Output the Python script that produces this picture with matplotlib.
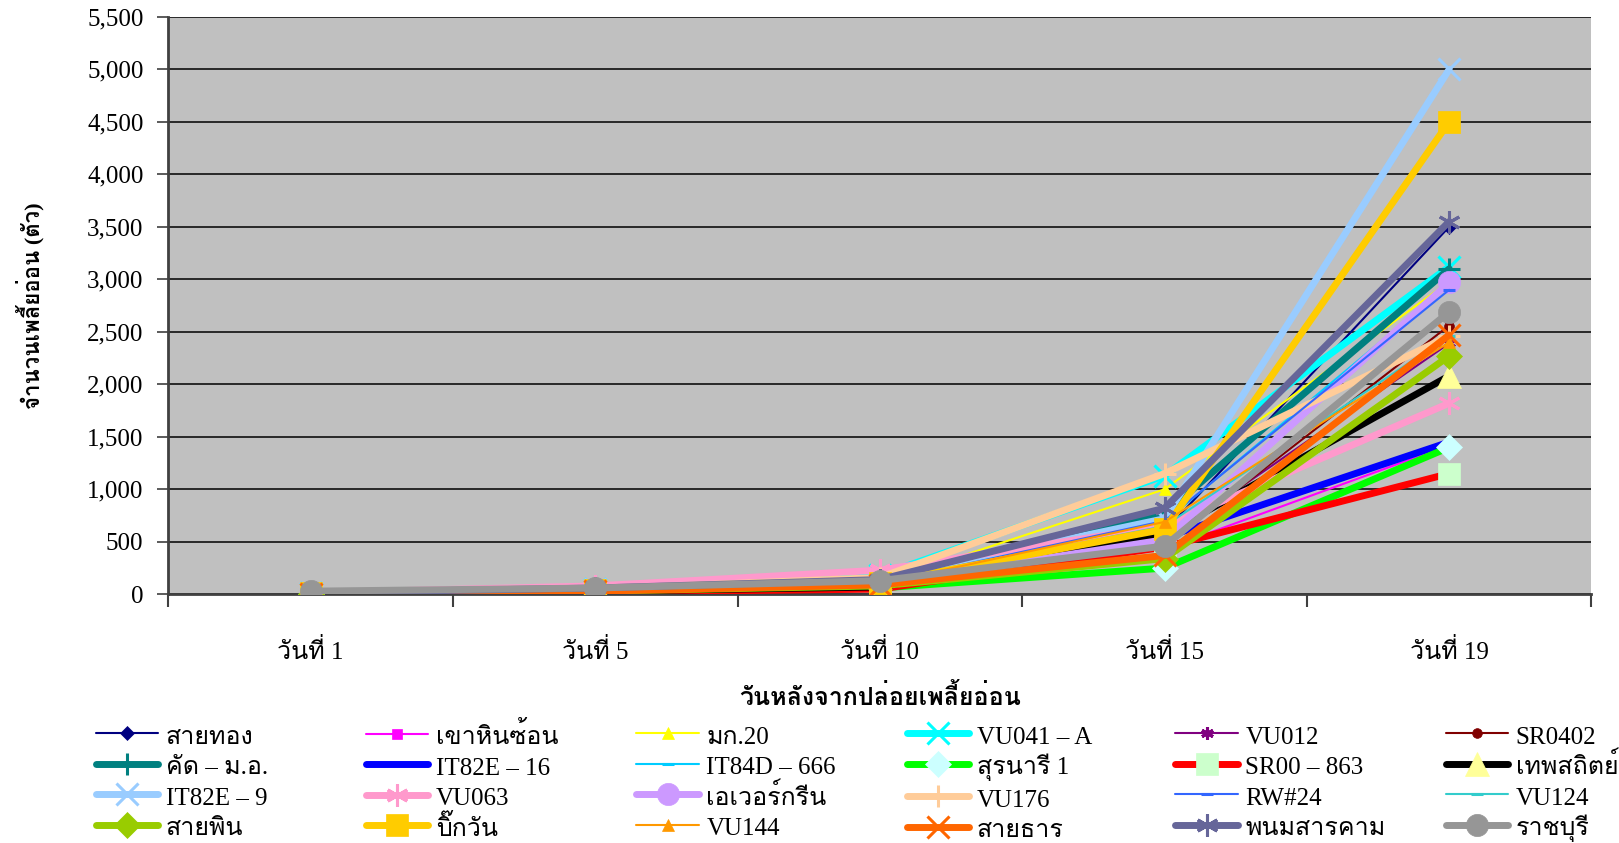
import matplotlib
matplotlib.use('Agg')
import matplotlib.pyplot as plt
from matplotlib import font_manager as fm
from matplotlib.ft2font import FT2Font

# look for any installed font that has Thai glyphs
thai_fonts = []
for f in fm.fontManager.ttflist:
    try:
        if 0x0E27 in FT2Font(f.fname).get_charmap():
            if f.name not in thai_fonts:
                thai_fonts.append(f.name)
    except Exception:
        pass

plt.rcParams['font.family'] = ['Liberation Serif'] + thai_fonts + ['DejaVu Sans']

days = ['วันที่ 1', 'วันที่ 5', 'วันที่ 10', 'วันที่ 15', 'วันที่ 19']

names = ['สายทอง', 'เขาหินซ้อน', 'มก.20', 'VU041 – A', 'VU012', 'SR0402',
         'คัด – ม.อ.', 'IT82E – 16', 'IT84D – 666', 'สุรนารี 1', 'SR00 – 863', 'เทพสถิตย์',
         'IT82E – 9', 'VU063', 'เอเวอร์กรีน', 'VU176', 'RW#24', 'VU124',
         'สายพิน', 'บิ๊กวัน', 'VU144', 'สายธาร', 'พนมสารคาม', 'ราชบุรี']

sai_thong   = [10, 40, 100, 600, 3500]
khao_hin    = [10, 40, 90, 430, 1420]
mk20        = [10, 40, 110, 1000, 2980]
vu041a      = [10, 50, 180, 1130, 3120]
vu012       = [10, 40, 100, 520, 2390]
sr0402      = [5, 30, 80, 460, 2560]
khat_mo     = [10, 40, 110, 770, 3100]
it82e16     = [5, 30, 70, 540, 1450]
it84d666    = [10, 40, 120, 690, 2950]
suranari1   = [5, 25, 60, 250, 1400]
sr00_863    = [5, 20, 50, 450, 1150]
thepsathit  = [5, 30, 70, 570, 2080]
it82e9      = [10, 50, 150, 720, 5000]
vu063       = [15, 80, 230, 650, 1820]
evergreen   = [10, 40, 100, 520, 2970]
vu176       = [10, 50, 160, 1150, 2460]
rw24        = [10, 40, 110, 700, 2900]
vu124       = [10, 40, 110, 650, 2460]
sai_phin    = [5, 30, 80, 340, 2270]
big_one     = [10, 40, 110, 620, 4500]
vu144       = [10, 40, 100, 690, 2400]
sai_than    = [5, 30, 90, 370, 2470]
phanom      = [15, 60, 140, 820, 3550]
ratchaburi  = [30, 60, 130, 460, 2690]

values = [sai_thong, khao_hin, mk20, vu041a, vu012, sr0402,
          khat_mo, it82e16, it84d666, suranari1, sr00_863, thepsathit,
          it82e9, vu063, evergreen, vu176, rw24, vu124,
          sai_phin, big_one, vu144, sai_than, phanom, ratchaburi]

star = (6, 2, 0)
# line colour, line width, marker, marker face, marker size
styles = [
    ('#000080', 1.5, 'D', '#000080', 7),
    ('#FF00FF', 1.5, 's', '#FF00FF', 7),
    ('#FFFF00', 1.5, '^', '#FFFF00', 8),
    ('#00FFFF', 5, 'x', '#00FFFF', 16),
    ('#800080', 1.5, star, '#800080', 9),
    ('#800000', 1.5, 'o', '#800000', 7),
    ('#008080', 5, '+', '#008080', 16),
    ('#0000FF', 5, '_', '#0000FF', 8),
    ('#00CCFF', 1.5, '_', '#00CCFF', 8),
    ('#00FF00', 5, 'D', '#CCFFFF', 13),
    ('#FF0000', 5, 's', '#CCFFCC', 16),
    ('#000000', 5, '^', '#FFFF99', 17),
    ('#99CCFF', 5, 'x', '#99CCFF', 16),
    ('#FF99CC', 5, star, '#FF99CC', 16),
    ('#CC99FF', 5, 'o', '#CC99FF', 16),
    ('#FFCC99', 5, '+', '#FFCC99', 16),
    ('#3366FF', 1.5, '_', '#3366FF', 8),
    ('#33CCCC', 1.5, '_', '#33CCCC', 8),
    ('#99CC00', 5, 'D', '#99CC00', 13),
    ('#FFCC00', 5, 's', '#FFCC00', 16),
    ('#FF9900', 1.5, '^', '#FF9900', 8),
    ('#FF6600', 5, 'x', '#FF6600', 16),
    ('#666699', 5, star, '#666699', 16),
    ('#969696', 5, 'o', '#969696', 16),
]

fig = plt.figure(figsize=(16.19, 8.43), dpi=100)
ax = fig.add_axes([0.104, 0.295, 0.879, 0.685])
ax.set_facecolor('#C0C0C0')

x = list(range(len(days)))
handles = []
for i, (vals, st) in enumerate(zip(values, styles)):
    col, lw, mk, mfc, ms = st
    line_marks = mk in ('x', '+', '_', star)
    h, = ax.plot(x, vals, color=col, lw=lw, marker=mk, ms=ms,
                 mfc=mfc, mec=(mfc if not line_marks else col),
                 mew=(2.2 if line_marks else 0.5), solid_capstyle='round',
                 label=names[i], zorder=3 + i * 0.01)
    handles.append(h)

ax.set_xlim(-0.5, 4.5)
ax.set_ylim(0, 5500)
ax.set_yticks(range(0, 5501, 500))
ax.set_yticklabels([f'{v:,}' for v in range(0, 5501, 500)], fontsize=18)
ax.yaxis.grid(True, color='black', lw=1.1, zorder=1)
ax.set_axisbelow(True)

ax.set_xticks(x)
ax.set_xticklabels(days, fontsize=18)
ax.set_xticks([v - 0.5 for v in range(len(days) + 1)], minor=True)
ax.tick_params(axis='x', which='major', length=0, pad=32)
ax.tick_params(axis='x', which='minor', length=9, width=1.5, color='#404040', direction='out')
ax.tick_params(axis='y', length=8, width=1.2, color='#404040', pad=10)

for s in ['top', 'right']:
    ax.spines[s].set_visible(False)
for s in ['left', 'bottom']:
    ax.spines[s].set_color('#404040')
    ax.spines[s].set_linewidth(2)

ax.set_ylabel('จำนวนเพลี้ยอ่อน (ตัว)', fontsize=16, fontweight='bold')
ax.yaxis.set_label_coords(-0.087, 0.5)
ax.set_xlabel('วันหลังจากปล่อยเพลี้ยอ่อน', fontsize=18, fontweight='bold', va='top')
ax.xaxis.set_label_coords(0.5, -0.155)

# Excel legend: 6 evenly spaced columns, filled row by row
col_x = [0.059, 0.226, 0.393, 0.560, 0.726, 0.893]
for c in range(6):
    hs = [handles[r * 6 + c] for r in range(4)]
    fig.legend(hs, [names[r * 6 + c] for r in range(4)], loc='upper left',
               bbox_to_anchor=(col_x[c], 0.143), frameon=False, fontsize=18,
               handlelength=2.5, handleheight=1.2, handletextpad=0.3,
               labelspacing=0.17, borderpad=0, borderaxespad=0)

fig.savefig('out.png', dpi=100)
